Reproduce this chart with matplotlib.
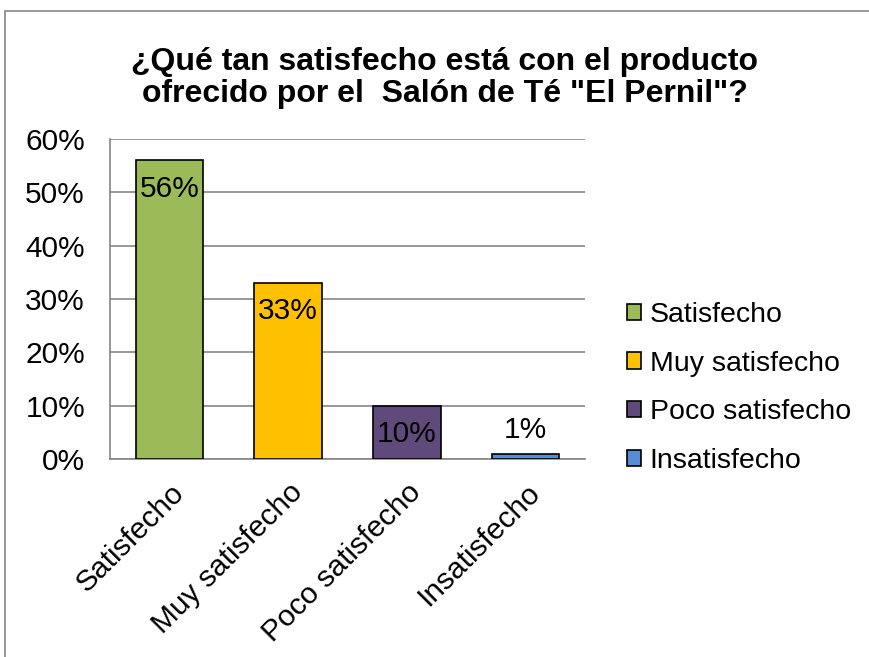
import matplotlib
matplotlib.use("Agg")
import matplotlib.pyplot as plt
from matplotlib.patches import Rectangle
from matplotlib.ticker import PercentFormatter

# Datos
categorias = ["Satisfecho", "Muy satisfecho", "Poco satisfecho", "Insatisfecho"]
valores = [0.56, 0.33, 0.10, 0.01]
etiquetas = ["56%", "33%", "10%", "1%"]
colores = ["#9BBB59", "#FFC000", "#604A7B", "#558ED5"]
titulo = '¿Qué tan satisfecho está con el producto\nofrecido por el  Salón de Té "El Pernil"?'

plt.rcParams["font.family"] = ["Liberation Sans", "DejaVu Sans"]
FS = 21.5

W, H = 870, 657
fig = plt.figure(figsize=(W / 100, H / 100), dpi=100)

# marco del área del gráfico (solo se ven los bordes izquierdo y superior)
fig.patches.append(Rectangle((5 / W, -0.1), 1.2, (H - 11) / H + 0.1,
                             transform=fig.transFigure, fill=False,
                             edgecolor="#868686", linewidth=1.2))

ax = fig.add_axes([110 / W, 1 - 459 / H, 475 / W, 320 / H])
x = range(len(categorias))
bars = ax.bar(x, valores, width=0.57, color=colores, edgecolor="black",
              linewidth=1.2, zorder=3)

for b, v, t in zip(bars, valores, etiquetas):
    cx = b.get_x() + b.get_width() / 2
    if v > 0.05:
        ax.text(cx, v - 0.053, t, ha="center", va="center", fontsize=FS, zorder=4)
    else:
        ax.text(cx, v + 0.045, t, ha="center", va="center", fontsize=FS, zorder=4)

ax.set_ylim(0, 0.6)
ax.set_xlim(-0.5, len(categorias) - 0.5)
ax.set_yticks([0, 0.1, 0.2, 0.3, 0.4, 0.5, 0.6])
ax.yaxis.set_major_formatter(PercentFormatter(1.0, decimals=0))
ax.grid(axis="y", color="#868686", linewidth=1.2, zorder=0)
ax.set_xticks(list(x))
ax.set_xticklabels(categorias, rotation=45, ha="right", rotation_mode="anchor",
                   fontsize=FS)
ax.tick_params(axis="y", length=0, labelsize=FS, pad=18)
ax.tick_params(axis="x", length=0, pad=14)
for s in ["top", "right"]:
    ax.spines[s].set_visible(False)
for s in ["left", "bottom"]:
    ax.spines[s].set_color("#868686")
    ax.spines[s].set_linewidth(1.2)

fig.text(445 / W, 1 - 78 / H, titulo, ha="center", va="center",
         fontsize=23, fontweight="bold", linespacing=1.12)

fig.legend(bars, categorias, loc="center left",
           bbox_to_anchor=(627 / W, 1 - 388 / H), frameon=False,
           borderaxespad=0, borderpad=0,
           fontsize=20.5, handlelength=0.5, handleheight=0.5,
           handletextpad=0.3, labelspacing=0.8)

fig.savefig("out.png", dpi=100)
